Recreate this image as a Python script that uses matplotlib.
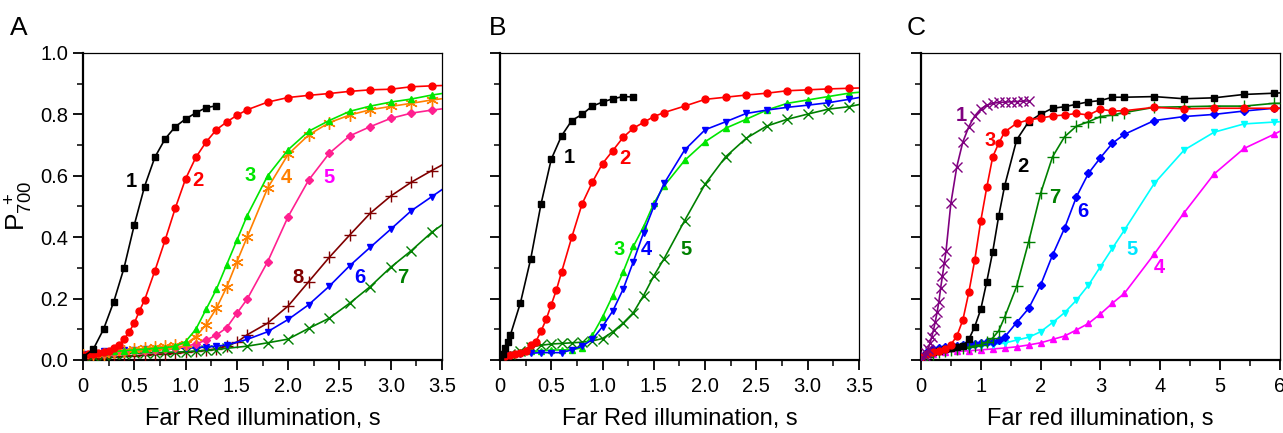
import matplotlib
matplotlib.use("Agg")
import matplotlib.pyplot as plt
from matplotlib.ticker import MultipleLocator, FuncFormatter

plt.rcParams["font.family"] = ["Liberation Sans", "DejaVu Sans"]
plt.rcParams["mathtext.fontset"] = "custom"
plt.rcParams["mathtext.rm"] = "Liberation Sans"
plt.rcParams["mathtext.it"] = "Liberation Sans:italic"

# ---------------------------------------------------------------------------
# DATA  (P700+ vs far red illumination time, s)
# ---------------------------------------------------------------------------

# Panel A
a1_t = [0, 0.1, 0.2, 0.3, 0.4, 0.5, 0.6, 0.7, 0.8, 0.9, 1.0, 1.1, 1.2, 1.3]
a1_v = [0.01, 0.035, 0.10, 0.19, 0.30, 0.44, 0.565, 0.66, 0.72, 0.76, 0.785, 0.805, 0.822, 0.828]

a2_t = [0, 0.05, 0.1, 0.15, 0.2, 0.25, 0.3, 0.35, 0.4, 0.45, 0.5, 0.55, 0.6,
        0.7, 0.8, 0.9, 1.0, 1.1, 1.2, 1.3, 1.4, 1.5, 1.6,
        1.8, 2.0, 2.2, 2.4, 2.6, 2.8, 3.0, 3.2, 3.4, 3.5]
a2_v = [0.015, 0.018, 0.02, 0.022, 0.025, 0.03, 0.04, 0.05, 0.067, 0.092, 0.12, 0.16, 0.195,
        0.29, 0.39, 0.495, 0.59, 0.66, 0.71, 0.75, 0.775, 0.797, 0.815,
        0.84, 0.855, 0.862, 0.868, 0.875, 0.88, 0.882, 0.89, 0.893, 0.894]

a3_t = [0, 0.1, 0.2, 0.3, 0.4, 0.5, 0.6, 0.7, 0.8, 0.9, 1.0, 1.1, 1.2, 1.3, 1.4, 1.5, 1.6,
        1.8, 2.0, 2.2, 2.4, 2.6, 2.8, 3.0, 3.2, 3.4, 3.5]
a3_v = [0.02, 0.022, 0.025, 0.028, 0.03, 0.033, 0.035, 0.038, 0.04, 0.045, 0.06, 0.1, 0.165,
        0.23, 0.31, 0.39, 0.47,
        0.60, 0.685, 0.745, 0.78, 0.81, 0.827, 0.84, 0.85, 0.863, 0.868]

a4_t = a3_t
a4_v = [0.015, 0.018, 0.02, 0.025, 0.03, 0.035, 0.038, 0.042, 0.045, 0.048, 0.052, 0.076, 0.115,
        0.168, 0.237, 0.32, 0.40,
        0.56, 0.67, 0.733, 0.773, 0.798, 0.815, 0.826, 0.836, 0.847, 0.851]

a5_t = a3_t
a5_v = [0.015, 0.018, 0.02, 0.022, 0.025, 0.028, 0.03, 0.033, 0.036, 0.04, 0.045, 0.052, 0.065,
        0.081, 0.105, 0.152, 0.198,
        0.32, 0.467, 0.586, 0.673, 0.73, 0.76, 0.787, 0.804, 0.814, 0.818]

a8_t = [0, 0.05, 0.1, 0.15, 0.2, 0.3, 0.4, 0.5, 0.6, 0.7, 0.8, 0.9, 1.0, 1.1, 1.2, 1.3, 1.4,
        1.5, 1.6, 1.8, 2.0, 2.2, 2.4, 2.6, 2.8, 3.0, 3.2, 3.4, 3.5]
a8_v = [0.0, 0.002, 0.005, 0.007, 0.008, 0.01, 0.012, 0.014, 0.016, 0.018, 0.02, 0.022, 0.025,
        0.028, 0.032, 0.036, 0.045, 0.058, 0.082,
        0.12, 0.176, 0.255, 0.334, 0.407, 0.478, 0.534, 0.579, 0.617, 0.635]

a6_t = [0, 0.1, 0.2, 0.3, 0.4, 0.5, 0.6, 0.7, 0.8, 0.9, 1.0, 1.1, 1.2, 1.3,
        1.4, 1.6, 1.8, 2.0, 2.2, 2.4, 2.6, 2.8, 3.0, 3.2, 3.4, 3.5]
a6_v = [0.02, 0.025, 0.028, 0.03, 0.032, 0.034, 0.035, 0.036, 0.037, 0.038, 0.039, 0.04, 0.042,
        0.045, 0.049, 0.067, 0.092, 0.132, 0.18, 0.24, 0.307, 0.367, 0.426, 0.486, 0.532, 0.555]

a7_t = a6_t
a7_v = [0.01, 0.013, 0.016, 0.018, 0.02, 0.022, 0.023, 0.024, 0.025, 0.026, 0.027, 0.029, 0.031,
        0.034, 0.038, 0.045, 0.056, 0.068, 0.103, 0.136, 0.185, 0.239, 0.302, 0.356, 0.416, 0.44]

# Panel B
b1_t = [0, 0.025, 0.05, 0.075, 0.1, 0.2, 0.3, 0.4, 0.5, 0.6, 0.7, 0.8, 0.9, 1.0, 1.1, 1.2, 1.3]
b1_v = [0.01, 0.02, 0.04, 0.06, 0.08, 0.187, 0.33, 0.508, 0.654, 0.73, 0.78, 0.80, 0.827,
        0.84, 0.851, 0.858, 0.857]

b2_t = [0, 0.05, 0.1, 0.15, 0.2, 0.25, 0.3, 0.35, 0.4, 0.45, 0.5, 0.55, 0.6,
        0.7, 0.8, 0.9, 1.0, 1.1, 1.2, 1.3, 1.4, 1.5, 1.6,
        1.8, 2.0, 2.2, 2.4, 2.6, 2.8, 3.0, 3.2, 3.4, 3.5]
b2_v = [0.01, 0.012, 0.015, 0.018, 0.022, 0.03, 0.05, 0.06, 0.094, 0.132, 0.18, 0.228, 0.286,
        0.40, 0.508, 0.579, 0.64, 0.682, 0.725, 0.755, 0.774, 0.793, 0.806,
        0.827, 0.849, 0.856, 0.863, 0.869, 0.877, 0.88, 0.883, 0.885, 0.886]

b3_t = [0, 0.1, 0.2, 0.3, 0.4, 0.5, 0.6, 0.7, 0.8, 0.9, 1.0, 1.1, 1.2, 1.3, 1.4, 1.5, 1.6,
        1.8, 2.0, 2.2, 2.4, 2.6, 2.8, 3.0, 3.2, 3.4, 3.5]
b3_v = [0.01, 0.02, 0.025, 0.028, 0.03, 0.032, 0.033, 0.033, 0.04, 0.08, 0.14, 0.21, 0.286,
        0.37, 0.434, 0.51, 0.567,
        0.65, 0.711, 0.755, 0.784, 0.814, 0.836, 0.847, 0.858, 0.869, 0.872]

b4_t = b3_t
b4_v = [0.005, 0.015, 0.02, 0.022, 0.024, 0.024, 0.024, 0.033, 0.045, 0.067, 0.109, 0.16, 0.23,
        0.32, 0.415, 0.50, 0.575,
        0.684, 0.75, 0.776, 0.803, 0.814, 0.823, 0.83, 0.838, 0.849, 0.855]

b5_t = b3_t
b5_v = [0.005, 0.02, 0.03, 0.043, 0.048, 0.052, 0.054, 0.056, 0.058, 0.062, 0.07, 0.092, 0.12,
        0.154, 0.21, 0.274, 0.33,
        0.454, 0.573, 0.662, 0.722, 0.762, 0.784, 0.801, 0.817, 0.825, 0.832]

# Panel C
c1_t = [0, 0.03, 0.06, 0.09, 0.12, 0.15, 0.18, 0.21, 0.24, 0.27, 0.30, 0.33, 0.36, 0.39, 0.42,
        0.5, 0.6, 0.7, 0.8, 0.9, 1.0, 1.1, 1.2, 1.3, 1.4, 1.5, 1.6, 1.7, 1.8]
c1_v = [0.0, 0.005, 0.012, 0.022, 0.036, 0.054, 0.075, 0.098, 0.125, 0.155, 0.19, 0.235, 0.275,
        0.315, 0.356, 0.51, 0.63, 0.71, 0.76, 0.795, 0.818, 0.83, 0.836, 0.839, 0.84, 0.841,
        0.842, 0.843, 0.844]

c3_t = [0, 0.1, 0.2, 0.3, 0.4, 0.5, 0.6, 0.7, 0.8, 0.9, 1.0, 1.1, 1.2, 1.3, 1.4,
        1.6, 1.8, 2.0, 2.2, 2.4, 2.6, 2.8, 3.0, 3.2, 3.4, 3.9, 4.4, 4.9, 5.4, 5.9, 6.0]
c3_v = [0.01, 0.02, 0.025, 0.03, 0.037, 0.05, 0.078, 0.13, 0.22, 0.326, 0.453, 0.562, 0.662,
        0.706, 0.743, 0.771, 0.782, 0.788, 0.795, 0.798, 0.803, 0.798, 0.817, 0.811, 0.812,
        0.823, 0.818, 0.82, 0.82, 0.82, 0.82]

c2_t = [0, 0.1, 0.2, 0.3, 0.4, 0.5, 0.6, 0.7, 0.8, 0.9, 1.0, 1.1, 1.2, 1.3, 1.4,
        1.6, 1.8, 2.0, 2.2, 2.4, 2.6, 2.8, 3.0, 3.2, 3.4, 3.9, 4.4, 4.9, 5.4, 5.9, 6.0]
c2_v = [0.01, 0.02, 0.025, 0.03, 0.035, 0.04, 0.042, 0.045, 0.067, 0.109, 0.165, 0.255, 0.353,
        0.469, 0.568, 0.717, 0.776, 0.801, 0.82, 0.825, 0.833, 0.841, 0.845, 0.856, 0.856,
        0.858, 0.851, 0.854, 0.865, 0.869, 0.87]

c7_t = [0, 0.1, 0.2, 0.3, 0.4, 0.5, 0.6, 0.7, 0.8, 0.9, 1.0, 1.1, 1.2, 1.3, 1.4,
        1.6, 1.8, 2.0, 2.2, 2.4, 2.6, 2.8, 3.0, 3.2, 3.4, 3.9, 4.4, 4.9, 5.4, 5.9, 6.0]
c7_v = [0.0, 0.01, 0.02, 0.025, 0.03, 0.033, 0.036, 0.039, 0.042, 0.046, 0.05, 0.058, 0.072,
        0.095, 0.14, 0.24, 0.385, 0.543, 0.662, 0.727, 0.762, 0.776, 0.793, 0.798, 0.806,
        0.823, 0.825, 0.827, 0.827, 0.836, 0.836]

c6_t = c7_t
c6_v = [0.01, 0.025, 0.035, 0.04, 0.042, 0.045, 0.047, 0.048, 0.05, 0.052, 0.054, 0.057, 0.06,
        0.065, 0.075, 0.122, 0.168, 0.244, 0.342, 0.429, 0.532, 0.608, 0.659, 0.706, 0.735,
        0.78, 0.793, 0.80, 0.811, 0.82, 0.82]

c5_t = [0, 0.2, 0.4, 0.6, 0.8, 1.0, 1.2, 1.4, 1.6, 1.8,
        2.0, 2.2, 2.4, 2.6, 2.8, 3.0, 3.2, 3.4, 3.9, 4.4, 4.9, 5.4, 5.9, 6.0]
c5_v = [0.01, 0.03, 0.035, 0.04, 0.043, 0.046, 0.05, 0.055, 0.065, 0.074,
        0.092, 0.122, 0.154, 0.195, 0.244, 0.304, 0.364, 0.423, 0.575, 0.684, 0.742, 0.769,
        0.775, 0.776]

c4_t = [0, 0.2, 0.4, 0.6, 0.8, 1.0, 1.2, 1.4, 1.6, 1.8, 2.0, 2.2,
        2.4, 2.6, 2.8, 3.0, 3.2, 3.4, 3.9, 4.4, 4.9, 5.4, 5.9, 6.0]
c4_v = [0.005, 0.02, 0.025, 0.028, 0.03, 0.033, 0.036, 0.039, 0.043, 0.049, 0.056, 0.067,
        0.078, 0.098, 0.119, 0.15, 0.185, 0.217, 0.345, 0.48, 0.606, 0.689, 0.735, 0.745]

ASTER = (6, 2, 0)

# (t, v, color, marker, markersize, last point is only a line end)
PANEL_A = [
    (a8_t, a8_v, "#800000", "+", 8, True),
    (a7_t, a7_v, "#008000", "x", 7, True),
    (a6_t, a6_v, "#0000FF", "v", 5, True),
    (a5_t, a5_v, "#FF2090", "D", 4, True),
    (a4_t, a4_v, "#FF8000", ASTER, 9, True),
    (a3_t, a3_v, "#00E600", "^", 5, True),
    (a2_t, a2_v, "#FF0000", "o", 5, True),
    (a1_t, a1_v, "#000000", "s", 4.5, False),
]
PANEL_B = [
    (b5_t, b5_v, "#008000", "x", 7, True),
    (b3_t, b3_v, "#00E600", "^", 5, True),
    (b4_t, b4_v, "#0000FF", "v", 5, True),
    (b2_t, b2_v, "#FF0000", "o", 5, True),
    (b1_t, b1_v, "#000000", "s", 4.5, False),
]
PANEL_C = [
    (c4_t, c4_v, "#FF00FF", "^", 5, True),
    (c5_t, c5_v, "#00FFFF", "v", 5, True),
    (c6_t, c6_v, "#0000FF", "D", 4, True),
    (c7_t, c7_v, "#008000", "+", 8, True),
    (c2_t, c2_v, "#000000", "s", 4.5, True),
    (c3_t, c3_v, "#FF0000", "o", 5, True),
    (c1_t, c1_v, "#800080", "x", 7, False),
]

# curve number labels: (text, t, v, color)
LABELS_A = [("1", 0.47, 0.58, "#000000"), ("2", 1.12, 0.585, "#FF0000"),
            ("3", 1.63, 0.60, "#00E600"), ("4", 1.98, 0.595, "#FF8000"),
            ("5", 2.40, 0.595, "#FF00FF"), ("8", 2.10, 0.27, "#800000"),
            ("6", 2.70, 0.27, "#0000FF"), ("7", 3.12, 0.27, "#008000")]
LABELS_B = [("1", 0.68, 0.66, "#000000"), ("2", 1.22, 0.655, "#FF0000"),
            ("3", 1.16, 0.36, "#00E600"), ("4", 1.43, 0.36, "#0000FF"),
            ("5", 1.81, 0.36, "#008000")]
LABELS_C = [("1", 0.67, 0.795, "#800080"), ("3", 1.15, 0.715, "#FF0000"),
            ("2", 1.71, 0.63, "#000000"), ("7", 2.23, 0.53, "#008000"),
            ("6", 2.70, 0.485, "#0000FF"), ("5", 3.52, 0.36, "#00E5FF"),
            ("4", 3.99, 0.30, "#FF00FF")]


def x_fmt(x, pos):
    return "0" if abs(x) < 1e-9 else f"{x:.1f}"


def style_axes(ax, xmax, xmajor, xminor, show_ylabels):
    ax.set_xlim(0, xmax)
    ax.set_ylim(0, 1.0)
    ax.xaxis.set_major_locator(MultipleLocator(xmajor))
    ax.xaxis.set_minor_locator(MultipleLocator(xminor))
    ax.yaxis.set_major_locator(MultipleLocator(0.2))
    ax.yaxis.set_minor_locator(MultipleLocator(0.1))
    ax.tick_params(which="major", direction="out", length=7, width=1.3, labelsize=14.5,
                   top=False, right=False)
    ax.tick_params(which="minor", direction="out", length=4, width=1.1, top=False, right=False)
    ax.tick_params(axis="x", pad=5)
    ax.spines["left"].set_linewidth(1.6)
    ax.spines["bottom"].set_linewidth(1.6)
    ax.spines["top"].set_linewidth(0.9)
    ax.spines["right"].set_linewidth(0.9)
    if show_ylabels:
        ax.yaxis.set_major_formatter(FuncFormatter(lambda y, p: f"{y:.1f}"))
    else:
        ax.set_yticklabels([])


def draw_panel(ax, curves, labels):
    for t, v, color, marker, ms, edge in curves:
        mev = slice(0, len(t) - 1) if edge else None
        ax.plot(t, v, color=color, lw=1.2, marker=marker, ms=ms, mew=1.0,
                markevery=mev, zorder=3)
    for txt, t, v, color in labels:
        ax.text(t, v, txt, color=color, fontsize=14.5, fontweight="bold",
                ha="center", va="center", zorder=4)


fig = plt.figure(figsize=(12.83, 4.33), dpi=100)
fig.patch.set_facecolor("white")

W, H, B = 0.2798, 0.709, 0.1686
ax_a = fig.add_axes([0.0647, B, W, H])
ax_b = fig.add_axes([0.3897, B, W, H])
ax_c = fig.add_axes([0.7178, B, W, H])

draw_panel(ax_a, PANEL_A, LABELS_A)
draw_panel(ax_b, PANEL_B, LABELS_B)
draw_panel(ax_c, PANEL_C, LABELS_C)

style_axes(ax_a, 3.5, 0.5, 0.25, True)
style_axes(ax_b, 3.5, 0.5, 0.25, False)
style_axes(ax_c, 6, 1, 0.5, False)
ax_a.xaxis.set_major_formatter(FuncFormatter(x_fmt))
ax_b.xaxis.set_major_formatter(FuncFormatter(x_fmt))

ax_a.set_xlabel("Far Red illumination, s", fontsize=17, labelpad=9)
ax_b.set_xlabel("Far Red illumination, s", fontsize=17, labelpad=9)
ax_c.set_xlabel("Far red illumination, s", fontsize=17, labelpad=9)
ax_a.set_ylabel(r"$\mathrm{P}_{700}^{\ +}$", fontsize=19, labelpad=4)

fig.text(0.008, 0.935, "A", fontsize=19, va="center")
fig.text(0.381, 0.935, "B", fontsize=19, va="center")
fig.text(0.707, 0.935, "C", fontsize=19, va="center")

fig.savefig("out.png", dpi=100, facecolor="white")
